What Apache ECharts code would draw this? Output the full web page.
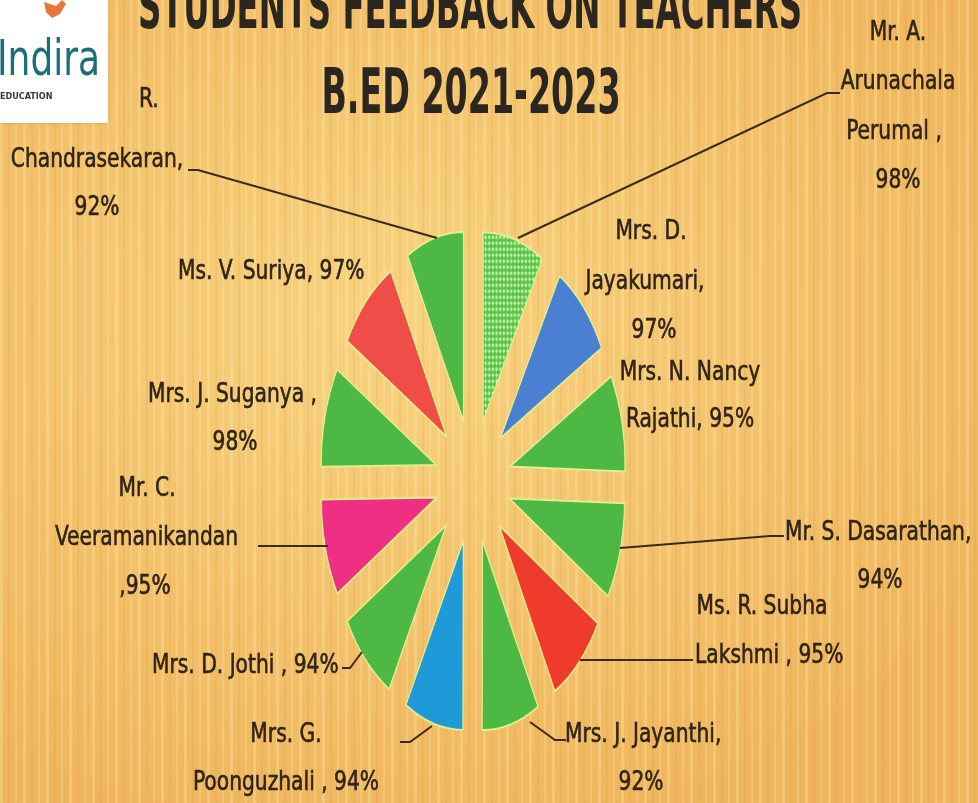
<!DOCTYPE html>
<html>
<head>
<meta charset="utf-8">
<script src="https://cdn.jsdelivr.net/npm/echarts@6/dist/echarts.min.js"></script>
<style>
html,body{margin:0;padding:0;width:978px;height:803px;overflow:hidden;}
body{
  background-color:#f2c26a;
  background-image:
    repeating-linear-gradient(90deg, rgba(255,236,170,0.30) 0 3px, rgba(0,0,0,0) 3px 8px, rgba(210,140,50,0.14) 8px 10px, rgba(0,0,0,0) 10px 15px, rgba(255,240,190,0.22) 15px 17px, rgba(0,0,0,0) 17px 23px),
    radial-gradient(ellipse 70% 65% at 40% 40%, rgba(255,228,150,0.5), rgba(234,162,72,0.4));
}
#pie{position:absolute;left:0;top:0;width:978px;height:803px;transform-origin:473px 0;transform:scaleX(0.61);}
#ann{position:absolute;left:0;top:0;width:978px;height:803px;}
</style>
</head>
<body>
<div id="pie"></div>
<div id="ann"></div>
<script>
// ---- data ----
const teachers = ['Mr. A. Arunachala Perumal','Mrs. D. Jayakumari','Mrs. N. Nancy Rajathi','Mr. S. Dasarathan','Ms. R. Subha Lakshmi','Mrs. J. Jayanthi','Mrs. G. Poonguzhali','Mrs. D. Jothi','Mr. C. Veeramanikandan','Mrs. J. Suganya','Ms. V. Suriya','Mr. R. Chandrasekaran'];
const feedback = [98,97,95,94,95,92,94,94,95,98,97,92];
const titleLines = ['STUDENTS FEEDBACK ON TEACHERS','B.ED 2021-2023'];
// label text lines per slice ({v} = value)
const labelText = [
  ['Mr. A.','Arunachala','Perumal ,','{v}%'],
  ['Mrs. D.','Jayakumari,','{v}%'],
  ['Mrs. N. Nancy','Rajathi, {v}%'],
  ['Mr. S. Dasarathan,','{v}%'],
  ['Ms. R. Subha','Lakshmi , {v}%'],
  ['Mrs. J. Jayanthi,','{v}%'],
  ['Mrs. G.','Poonguzhali , {v}%'],
  ['Mrs. D. Jothi , {v}%'],
  ['Mr. C.','Veeramanikandan',',{v}%'],
  ['Mrs. J. Suganya ,','{v}%'],
  ['Ms. V. Suriya, {v}%'],
  ['R.','Chandrasekaran,','{v}%']
];

// ---- styles / layout ----
const GREEN = '#4db843';
const sliceColors = [null,'#4a7fd2',GREEN,GREEN,'#ef3b2c',GREEN,'#1e9ad8',GREEN,'#ee2f84',GREEN,'#f04c48',GREEN];
// [x, y, align] for each text line
const labelPos = [
  [[898,33,'center'],[898,82,'center'],[894,132,'center'],[898,181,'center']],
  [[651,232,'center'],[645,282,'center'],[654,331,'center']],
  [[690,373,'center'],[690,420,'center']],
  [[785,533,'left'],[880,581,'center']],
  [[762,607,'center'],[695,656,'left']],
  [[565,735,'left'],[641,783,'center']],
  [[286,735,'center'],[286,783,'center']],
  [[152,666,'left']],
  [[147,489,'center'],[55,538,'left'],[145,587,'center']],
  [[148,395,'left'],[235,443,'center']],
  [[178,272,'left']],
  [[139,100,'left'],[97,160,'center'],[97,208,'center']]
];
const leaders = [
  [[518,238],[827,93],[840,93]],
  null,null,
  [[620,548],[770,536],[784,536]],
  [[580,660],[693,660]],
  [[530,722],[555,740],[566,740]],
  [[432,726],[410,742],[400,742]],
  [[362,652],[350,668],[342,668]],
  [[328,546],[258,546]],
  null,null,
  [[437,238],[198,170],[188,170]]
];

// pattern for the first slice
function makePattern(){
  const c = document.createElement('canvas');
  c.width = 6; c.height = 6;
  const g = c.getContext('2d');
  g.fillStyle = '#58c24c'; g.fillRect(0,0,6,6);
  g.fillStyle = '#c6f3a6';
  g.beginPath(); g.moveTo(3,0.5); g.lineTo(5.5,3); g.lineTo(3,5.5); g.lineTo(0.5,3); g.closePath(); g.fill();
  return c;
}

const pie = echarts.init(document.getElementById('pie'), null, {renderer:'canvas'});
pie.setOption({
  animation:false,
  series:[{
    type:'pie',
    center:[473,481],
    radius:[0,189],
    startAngle:90,
    clockwise:true,
    selectedMode:'multiple',
    selectedOffset:62,
    label:{show:false},
    labelLine:{show:false},
    emphasis:{disabled:true},
    select:{itemStyle:{}},
    itemStyle:{borderColor:'#e3ef8e',borderWidth:2},
    data: teachers.map((n,i)=>({
      name:n, value:feedback[i], selected:true,
      itemStyle:{color: i===0 ? {image: makePattern(), repeat:'repeat'} : sliceColors[i]}
    }))
  }]
});

const FONT = "'Liberation Sans Narrow','DejaVu Sans Condensed',sans-serif";
const TXT = '#30241a';
const g = [];
// logo
g.push({type:'rect', shape:{x:0,y:0,width:108,height:123}, style:{fill:'#ffffff', shadowBlur:4, shadowColor:'rgba(0,0,0,0.15)'}});
g.push({type:'polygon', shape:{points:[[44,2],[56,6],[62,0],[66,4],[60,14],[52,18],[46,12]]}, style:{fill:'#e8773c'}});
g.push({type:'text', x:-3, y:62, scaleY:1.25, style:{text:'Indira', font:'40px '+FONT, fill:'#1d6e7b', verticalAlign:'middle'}});
g.push({type:'text', x:0, y:97, style:{text:'EDUCATION', font:'bold 9px '+FONT, fill:'#2f3b40', verticalAlign:'middle'}});
// title
g.push({type:'text', x:470, y:12, scaleX:0.72, scaleY:1.25, style:{text:titleLines[0], font:'bold 50px '+FONT, fill:'#2b2620', align:'center', verticalAlign:'middle'}});
g.push({type:'text', x:471, y:97, scaleX:0.74, scaleY:1.25, style:{text:titleLines[1], font:'bold 50px '+FONT, fill:'#2b2620', align:'center', verticalAlign:'middle'}});
// labels
labelText.forEach((lines,i)=>{
  lines.forEach((t,j)=>{
    const p = labelPos[i][j];
    g.push({type:'text', x:p[0], y:p[1], scaleY:1.15, style:{text:t.replace('{v}', feedback[i]), font:'22.5px '+FONT, fill:TXT, stroke:TXT, lineWidth:0.5, align:p[2], verticalAlign:'middle'}});
  });
  if (leaders[i]) g.push({type:'polyline', shape:{points:leaders[i]}, style:{stroke:'#3a2b1a', lineWidth:2, fill:null}});
});

const ann = echarts.init(document.getElementById('ann'), null, {renderer:'canvas'});
ann.setOption({animation:false, graphic:{elements:g}});
</script>
</body>
</html>
